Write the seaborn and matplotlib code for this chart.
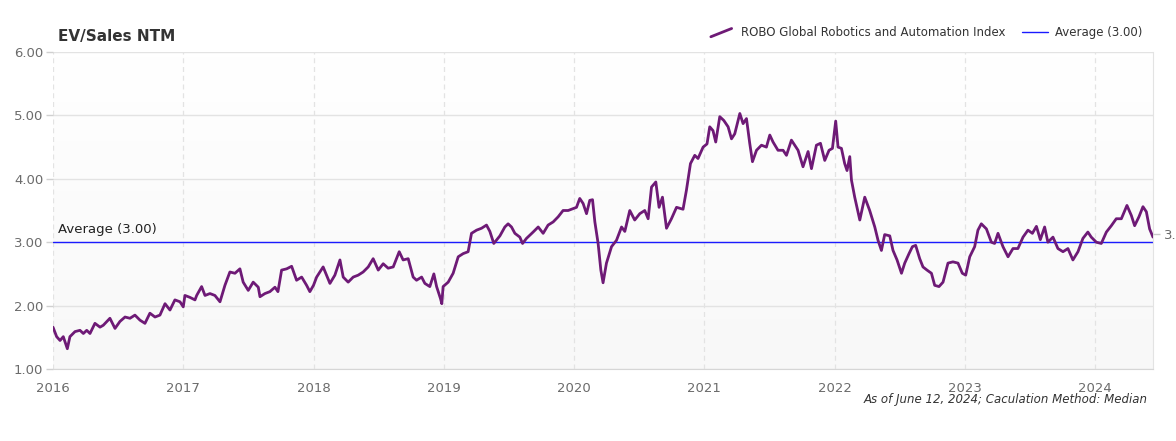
import numpy as np
import pandas as pd
import seaborn as sns
import matplotlib.pyplot as plt
from matplotlib.colors import LinearSegmentedColormap
from matplotlib.legend_handler import HandlerBase
from matplotlib.lines import Line2D

# EV/Sales NTM (time in fractional years)
years = [
    2016.000, 2016.028, 2016.054, 2016.079, 2016.110, 2016.130, 2016.169, 2016.207, 2016.233, 2016.259,
    2016.284, 2016.322, 2016.361, 2016.386, 2016.437, 2016.476, 2016.514, 2016.553, 2016.591, 2016.629,
    2016.668, 2016.706, 2016.744, 2016.783, 2016.821, 2016.860, 2016.898, 2016.936, 2016.975, 2017.000,
    2017.013, 2017.051, 2017.090, 2017.103, 2017.141, 2017.167, 2017.205, 2017.243, 2017.282, 2017.320,
    2017.358, 2017.397, 2017.435, 2017.460, 2017.499, 2017.537, 2017.576, 2017.589, 2017.627, 2017.665,
    2017.704, 2017.727, 2017.755, 2017.794, 2017.832, 2017.870, 2017.909, 2017.947, 2017.972, 2018.000,
    2018.024, 2018.074, 2018.126, 2018.164, 2018.203, 2018.228, 2018.266, 2018.305, 2018.343, 2018.381,
    2018.420, 2018.458, 2018.497, 2018.535, 2018.573, 2018.612, 2018.658, 2018.688, 2018.727, 2018.765,
    2018.791, 2018.830, 2018.855, 2018.893, 2018.924, 2018.945, 2018.975, 2018.985, 2018.995, 2019.034,
    2019.072, 2019.111, 2019.149, 2019.187, 2019.213, 2019.252, 2019.290, 2019.328, 2019.354, 2019.384,
    2019.431, 2019.469, 2019.494, 2019.520, 2019.546, 2019.584, 2019.605, 2019.635, 2019.686, 2019.725,
    2019.763, 2019.801, 2019.840, 2019.878, 2019.916, 2019.955, 2019.993, 2020.019, 2020.044, 2020.070,
    2020.096, 2020.121, 2020.142, 2020.160, 2020.185, 2020.206, 2020.223, 2020.249, 2020.288, 2020.326,
    2020.365, 2020.390, 2020.428, 2020.466, 2020.505, 2020.543, 2020.569, 2020.595, 2020.628, 2020.653,
    2020.679, 2020.710, 2020.748, 2020.787, 2020.837, 2020.863, 2020.894, 2020.927, 2020.952, 2020.991,
    2021.021, 2021.042, 2021.067, 2021.088, 2021.119, 2021.150, 2021.183, 2021.209, 2021.234, 2021.273,
    2021.298, 2021.324, 2021.349, 2021.370, 2021.401, 2021.439, 2021.477, 2021.503, 2021.528, 2021.566,
    2021.605, 2021.631, 2021.669, 2021.695, 2021.720, 2021.758, 2021.797, 2021.823, 2021.861, 2021.892,
    2021.925, 2021.958, 2021.984, 2022.009, 2022.027, 2022.053, 2022.078, 2022.096, 2022.117, 2022.130,
    2022.155, 2022.194, 2022.232, 2022.270, 2022.309, 2022.334, 2022.360, 2022.385, 2022.424, 2022.449,
    2022.480, 2022.514, 2022.539, 2022.572, 2022.598, 2022.623, 2022.654, 2022.679, 2022.710, 2022.744,
    2022.769, 2022.802, 2022.833, 2022.871, 2022.909, 2022.948, 2022.981, 2023.007, 2023.038, 2023.076,
    2023.101, 2023.127, 2023.166, 2023.204, 2023.229, 2023.255, 2023.293, 2023.332, 2023.370, 2023.408,
    2023.447, 2023.485, 2023.519, 2023.550, 2023.580, 2023.613, 2023.638, 2023.677, 2023.715, 2023.754,
    2023.792, 2023.830, 2023.869, 2023.907, 2023.945, 2023.971, 2024.010, 2024.048, 2024.087, 2024.125,
    2024.163, 2024.202, 2024.245, 2024.279, 2024.304, 2024.337, 2024.368, 2024.394, 2024.419, 2024.445,
]
ev_sales = [
    1.66, 1.51, 1.45, 1.51, 1.32, 1.51, 1.59, 1.61, 1.56, 1.61,
    1.56, 1.72, 1.66, 1.69, 1.80, 1.64, 1.75, 1.82, 1.80, 1.85,
    1.77, 1.72, 1.88, 1.82, 1.85, 2.03, 1.93, 2.09, 2.06, 1.98,
    2.16, 2.13, 2.09, 2.16, 2.30, 2.16, 2.19, 2.16, 2.06, 2.32,
    2.53, 2.51, 2.58, 2.37, 2.24, 2.37, 2.29, 2.14, 2.19, 2.22,
    2.29, 2.22, 2.56, 2.58, 2.62, 2.40, 2.45, 2.32, 2.22, 2.32,
    2.45, 2.61, 2.35, 2.48, 2.72, 2.45, 2.37, 2.45, 2.48, 2.53,
    2.61, 2.74, 2.56, 2.66, 2.59, 2.61, 2.85, 2.72, 2.74, 2.45,
    2.40, 2.45, 2.35, 2.30, 2.50, 2.30, 2.11, 2.03, 2.30, 2.37,
    2.51, 2.77, 2.82, 2.85, 3.14, 3.19, 3.22, 3.27, 3.17, 2.98,
    3.10, 3.24, 3.29, 3.24, 3.14, 3.08, 2.98, 3.06, 3.16, 3.24,
    3.14, 3.27, 3.32, 3.40, 3.50, 3.50, 3.53, 3.55, 3.69, 3.61,
    3.45, 3.66, 3.67, 3.32, 2.98, 2.56, 2.36, 2.67, 2.93, 3.03,
    3.24, 3.17, 3.50, 3.35, 3.45, 3.50, 3.37, 3.87, 3.95, 3.55,
    3.71, 3.22, 3.37, 3.55, 3.52, 3.82, 4.24, 4.37, 4.32, 4.50,
    4.55, 4.82, 4.76, 4.58, 4.98, 4.92, 4.82, 4.63, 4.71, 5.03,
    4.87, 4.95, 4.56, 4.27, 4.45, 4.53, 4.50, 4.69, 4.58, 4.45,
    4.45, 4.37, 4.61, 4.53, 4.45, 4.19, 4.43, 4.16, 4.53, 4.56,
    4.29, 4.45, 4.48, 4.91, 4.50, 4.48, 4.24, 4.13, 4.35, 3.98,
    3.71, 3.35, 3.71, 3.50, 3.24, 3.03, 2.87, 3.12, 3.10, 2.87,
    2.72, 2.51, 2.67, 2.82, 2.93, 2.95, 2.74, 2.61, 2.56, 2.51,
    2.32, 2.30, 2.37, 2.67, 2.69, 2.67, 2.51, 2.48, 2.77, 2.93,
    3.19, 3.29, 3.21, 3.00, 2.98, 3.14, 2.93, 2.77, 2.90, 2.90,
    3.08, 3.19, 3.14, 3.25, 3.04, 3.24, 3.00, 3.08, 2.90, 2.85,
    2.90, 2.72, 2.85, 3.06, 3.16, 3.08, 3.00, 2.98, 3.16, 3.26,
    3.37, 3.37, 3.58, 3.42, 3.26, 3.40, 3.56, 3.48, 3.21, 3.08,
]
average = 3.00
year_ticks = [2016, 2017, 2018, 2019, 2020, 2021, 2022, 2023, 2024]
y_ticks = [1, 2, 3, 4, 5, 6]
series_name = "ROBO Global Robotics and Automation Index"

line_color = "#6e1a76"
avg_color = "#1a1aff"
grid_color = "#e3e3e3"
label_color = "#6b6b6b"


class DiagonalHandler(HandlerBase):
    # legend key drawn as a short rising diagonal stroke
    def create_artists(self, legend, orig_handle, xdescent, ydescent,
                       width, height, fontsize, trans):
        x0, x1 = -xdescent + 0.1 * width, -xdescent + 0.9 * width
        y0, y1 = -ydescent - 0.05 * height, -ydescent + height * 0.95
        ln = Line2D([x0, x1], [y0, y1], color=orig_handle.get_color(),
                    linewidth=orig_handle.get_linewidth(), transform=trans)
        return [ln]


sns.set_style("white")
plt.rcParams["font.family"] = ["DejaVu Sans"]

df = pd.DataFrame({"year": years, "ev_sales": ev_sales})

fig = plt.figure(figsize=(11.76, 4.41), dpi=100)
ax = fig.add_axes([53 / 1176, 1 - 369 / 441, 1100 / 1176, 317 / 441])

# faint vertical gradient in the plot area (white at top, light grey at bottom)
bg_cmap = LinearSegmentedColormap.from_list("bg", ["#f8f8f8", "#ffffff"])
grad = np.linspace(1.0, 0.0, 64).reshape(-1, 1)
ax.imshow(grad, extent=[0, 1, 0, 1], transform=ax.transAxes, aspect="auto",
          cmap=bg_cmap, vmin=0, vmax=1, zorder=0)

sns.lineplot(data=df, x="year", y="ev_sales", ax=ax, color=line_color,
             linewidth=2.0, label=series_name, zorder=3)
ax.axhline(average, color=avg_color, linewidth=1.0,
           label=f"Average ({average:.2f})", zorder=2)

ax.set_xlim(2016, years[-1])
ax.set_ylim(1, 6)
ax.set_xticks(year_ticks)
ax.set_xticklabels([str(y) for y in year_ticks])
ax.set_yticks(y_ticks)
ax.set_yticklabels([f"{y:.2f}" for y in y_ticks])
ax.set_xlabel("")
ax.set_ylabel("")

ax.yaxis.grid(True, color=grid_color, linewidth=1.0, linestyle="-")
ax.xaxis.grid(True, color=grid_color, linewidth=0.9, linestyle=(0, (4, 3)))
ax.set_axisbelow(True)
ax.tick_params(axis="both", length=5, width=1, color="#d0d0d0",
               labelcolor=label_color, labelsize=9.5)
ax.tick_params(axis="x", pad=4)
ax.tick_params(axis="y", pad=2)

for side in ["top", "left"]:
    ax.spines[side].set_visible(False)
ax.spines["bottom"].set_color("#d6d6d6")
ax.spines["right"].set_color("#e3e3e3")

# last value marker on the right edge
ax_r = ax.twinx()
ax_r.set_ylim(ax.get_ylim())
ax_r.set_yticks([ev_sales[-1] + 0.05])
ax_r.set_yticklabels([f"{ev_sales[-1]:.2f}"])
ax_r.tick_params(axis="y", length=5, width=1, color="#c8c8c8",
                 labelcolor=label_color, labelsize=9.5, pad=3)
for s in ax_r.spines.values():
    s.set_visible(False)
ax_r.grid(False)

ax.text(0.005, average + 0.1, f"Average ({average:.2f})", transform=ax.get_yaxis_transform(),
        fontsize=9.5, color="#222222", va="bottom", ha="left")

fig.text(58 / 1176, 1 - 37 / 441, "EV/Sales NTM", fontsize=11, fontweight="bold",
         color="#333333", va="center", ha="left")

handles, labels = ax.get_legend_handles_labels()
leg = ax.legend(handles, labels, loc="lower right", bbox_to_anchor=(0.995, 1.025),
                ncol=2, frameon=False, fontsize=8.5, handlelength=2.2,
                columnspacing=1.4, handletextpad=0.6, borderaxespad=0,
                handler_map={handles[0]: DiagonalHandler()})
for t in leg.get_texts():
    t.set_color("#333333")

fig.text(1148 / 1176, 1 - 399 / 441, "As of June 12, 2024; Caculation Method: Median",
         fontsize=8.5, fontstyle="italic", color="#333333", ha="right", va="center")

fig.savefig("out.png", dpi=100)
